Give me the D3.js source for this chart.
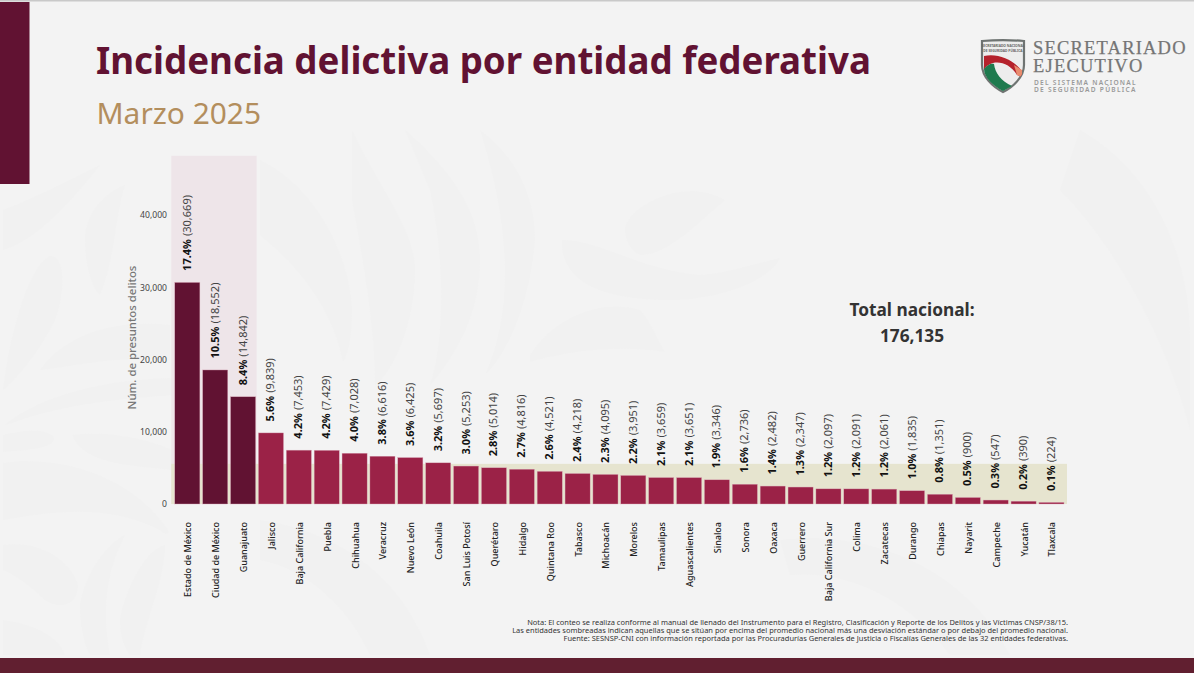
<!DOCTYPE html>
<html lang="es">
<head>
<meta charset="utf-8">
<title>Incidencia delictiva por entidad federativa</title>
<script src="https://cdn.jsdelivr.net/npm/d3@7"></script>
<style>
html,body{margin:0;padding:0;background:#f3f3f3;}
svg{display:block;font-family:"Noto Sans",sans-serif;}
</style>
</head>
<body>
<svg id="chart" width="1194" height="673"></svg>
<script>
// values
var states = ["Estado de México","Ciudad de México","Guanajuato","Jalisco","Baja California","Puebla","Chihuahua","Veracruz","Nuevo León","Coahuila","San Luis Potosí","Querétaro","Hidalgo","Quintana Roo","Tabasco","Michoacán","Morelos","Tamaulipas","Aguascalientes","Sinaloa","Sonora","Oaxaca","Guerrero","Baja California Sur","Colima","Zacatecas","Durango","Chiapas","Nayarit","Campeche","Yucatán","Tlaxcala"];
var counts = [30669,18552,14842,9839,7453,7429,7028,6616,6425,5697,5253,5014,4816,4521,4218,4095,3951,3659,3651,3346,2736,2482,2347,2097,2091,2061,1835,1351,900,547,390,224];
var shares = ["17.4%","10.5%","8.4%","5.6%","4.2%","4.2%","4.0%","3.8%","3.6%","3.2%","3.0%","2.8%","2.7%","2.6%","2.4%","2.3%","2.2%","2.1%","2.1%","1.9%","1.6%","1.4%","1.3%","1.2%","1.2%","1.2%","1.0%","0.8%","0.5%","0.3%","0.2%","0.1%"];
var yTicks = [0,10000,20000,30000,40000];
var highStates = ["Estado de México","Ciudad de México","Guanajuato"];
var lowBandTop = 5560; // upper edge of the beige band
var yTop = 48200;      // upper edge of the pink band
var notes = [
  "Nota: El conteo se realiza conforme al manual de llenado del Instrumento para el Registro, Clasificación y Reporte de los Delitos y las Víctimas CNSP/38/15.",
  "Las entidades sombreadas indican aquellas que se sitúan por encima del promedio nacional más una desviación estándar o por debajo del promedio nacional.",
  "Fuente: SESNSP-CNI con información reportada por las Procuradurías Generales de Justicia o Fiscalías Generales de las 32 entidades federativas."
];

var svg = d3.select("#chart");

// page background and the faint leaf ornament
svg.append("rect").attr("width",1194).attr("height",673).attr("fill","#f3f3f3");
var ornament = [
  "M3,390 C10,330 30,265 50,256 C65,255 66,290 55,320 C40,350 20,375 3,390 Z",
  "M5,425 C40,395 110,378 178,378 L178,395 C120,398 60,405 12,423 Z",
  "M3,435 C30,428 50,430 54,438 C54,448 30,450 3,452 Z",
  "M3,463 C60,455 130,475 168,530 C170,535 165,535 160,530 C110,505 60,510 3,520 Z",
  "M3,545 C40,540 70,560 78,585 C78,605 60,610 45,600 C30,585 15,575 3,570 Z",
  "M80,605 C85,575 105,545 125,535 C110,565 100,600 110,655 L90,655 C82,640 80,620 80,605 Z",
  "M120,620 C125,590 145,550 165,545 C165,580 145,620 140,655 L130,655 C122,645 120,630 120,620 Z",
  "M3,620 C40,625 60,640 65,655 L3,655 Z",
  "M85,240 C85,210 110,190 125,185 C115,215 115,260 100,295 C90,285 85,260 85,240 Z",
  "M40,370 C70,330 120,320 170,325 L170,360 C120,355 80,365 40,370 Z",
  "M72,435 C110,430 150,440 172,450 L172,470 C130,465 85,465 72,435 Z",
  "M3,210 C30,200 70,180 100,165 C80,190 40,240 3,250 Z",
  "M260,160 C320,190 350,260 352,310 C352,345 345,360 343,362 C335,320 310,275 260,235 Z",
  "M352,130 C380,190 415,230 415,270 C415,320 395,370 375,385 C375,330 365,270 352,200 Z",
  "M405,130 C450,170 480,210 480,260 C480,310 460,350 430,385 C445,340 445,260 430,190 Z",
  "M480,130 C520,160 535,200 535,240 C530,300 510,350 485,375 C510,320 515,240 480,130 Z",
  "M562,240 C600,240 640,270 700,275 C720,275 770,260 780,258 C770,280 720,300 670,300 C620,300 560,290 562,240 Z",
  "M530,355 C560,310 610,300 640,310 C650,320 660,345 665,352 C620,345 570,350 530,362 Z",
  "M625,230 C625,210 680,175 725,200 C700,220 670,255 640,255 C630,250 625,240 625,230 Z",
  "M260,520 C330,530 400,570 430,655 L370,655 C350,610 310,570 260,560 Z",
  "M780,540 C860,530 960,560 1010,655 L950,655 C910,600 850,570 790,575 Z",
  "M1080,130 C1150,170 1190,250 1190,340 L1190,430 C1170,350 1120,250 1060,190 Z"
];
svg.append("g").selectAll("path").data(ornament).join("path")
  .attr("d",function(d){return d;})
  .attr("fill","#f1f1f1");

svg.append("rect").attr("width",1194).attr("height",1.5).attr("fill","#c9c9c9");
svg.append("rect").attr("x",0).attr("y",2).attr("width",29.5).attr("height",182).attr("fill","#611232");
svg.append("rect").attr("x",0).attr("y",658).attr("width",1194).attr("height",15).attr("fill","#611f30");

// title
svg.append("text").attr("x",96).attr("y",73.5)
  .attr("font-size",36.7).attr("font-weight",700).attr("fill","#611232")
  .text("Incidencia delictiva por entidad federativa");
svg.append("text").attr("x",96.5).attr("y",124)
  .attr("font-size",29.9).attr("fill","#b38e5d")
  .text("Marzo 2025");

// logo
var logo = svg.append("g").attr("transform","translate(981,39)");
var shield = "M1,2 C12,1 32,1 43,2 L43,26 C43,38 32,48 22,53 C12,48 1,38 1,26 Z";
logo.append("clipPath").attr("id","shieldClip").append("path").attr("d",shield);
logo.append("path").attr("d",shield).attr("fill","#ededed").attr("stroke","#6f7472").attr("stroke-width",2.2);
var inner = logo.append("g").attr("clip-path","url(#shieldClip)");
inner.append("path").attr("d","M3,17 C16,14 32,20 41,32 L41,38 L36,36 C30,26 20,22 12,24 C8,25 5,27 3,31 Z").attr("fill","#b5222c");
inner.append("path").attr("d","M3,30 C6,26 10,24 13,25 C14,34 20,42 31,47 L22,52 C12,47 3,38 3,30 Z").attr("fill","#1e7a4e");
inner.append("path").attr("d","M33,26 L41,31 L41,38 L36,36 Z").attr("fill","#e98c6e");
logo.append("text").attr("x",22).attr("y",8).attr("text-anchor","middle")
  .attr("font-size",3.3).attr("font-weight",700).attr("fill","#666").text("SECRETARIADO NACIONAL");
logo.append("text").attr("x",22).attr("y",12.5).attr("text-anchor","middle")
  .attr("font-size",3.3).attr("font-weight",700).attr("fill","#666").text("DE SEGURIDAD PÚBLICA");

var logoText = svg.append("g").attr("fill","#757575");
logoText.append("text").attr("x",1033).attr("y",53.5)
  .attr("font-family","'Liberation Serif',serif").attr("font-size",18.5).attr("letter-spacing",1.2)
  .attr("stroke","#757575").attr("stroke-width",0.25)
  .text("SECRETARIADO");
logoText.append("text").attr("x",1033).attr("y",72)
  .attr("font-family","'Liberation Serif',serif").attr("font-size",18.5).attr("letter-spacing",1.2)
  .attr("stroke","#757575").attr("stroke-width",0.25)
  .text("EJECUTIVO");
logoText.append("text").attr("x",1034).attr("y",84.5)
  .attr("font-size",6.6).attr("font-weight",600).attr("letter-spacing",1.25).attr("fill","#999").text("DEL SISTEMA NACIONAL");
logoText.append("text").attr("x",1034).attr("y",92)
  .attr("font-size",6.6).attr("font-weight",600).attr("letter-spacing",1.25).attr("fill","#999").text("DE SEGURIDAD PÚBLICA");

// scales
var x = d3.scaleBand().domain(states).range([173.4,1065.4]).paddingInner(0.1).paddingOuter(0.05);
var y = d3.scaleLinear().domain([0,40000]).range([504,215]);

// shaded bands for the states outside mean +/- 1 sd
var bandLeft = x(states[0])-3.5;
svg.append("rect")
  .attr("x",bandLeft).attr("y",y(yTop))
  .attr("width",x(highStates[2])+x.bandwidth()+1-bandLeft)
  .attr("height",y(0)-y(yTop))
  .attr("fill","#eee5e9");
svg.append("rect")
  .attr("x",bandLeft).attr("y",y(lowBandTop))
  .attr("width",x(states[31])+x.bandwidth()+3-bandLeft)
  .attr("height",y(0)-y(lowBandTop))
  .attr("fill","#e6e4cf");

// bars
svg.append("g").selectAll("rect").data(states).join("rect")
  .attr("x",function(d){return x(d);})
  .attr("y",function(d,i){return y(counts[i]);})
  .attr("width",x.bandwidth())
  .attr("height",function(d,i){return y(0)-y(counts[i]);})
  .attr("fill",function(d){return highStates.indexOf(d)>=0 ? "#611232" : "#9b2247";})
  .attr("stroke","#d9a9b8").attr("stroke-width",0.4);

// value labels
var labels = svg.append("g").selectAll("text").data(states).join("text")
  .attr("transform",function(d,i){
    return "translate("+(x(d)+x.bandwidth()/2+3.5)+","+(y(counts[i])-11.5)+") rotate(-90)";
  })
  .attr("font-size",11).attr("fill","#222");
labels.append("tspan").attr("font-weight",700).attr("fill","#111")
  .text(function(d,i){return shares[i];});
labels.append("tspan").attr("fill","#444").attr("dx",3)
  .text(function(d,i){return "("+d3.format(",")(counts[i])+")";});

// axes
var yAxis = svg.append("g").attr("transform","translate(173,0)")
  .call(d3.axisLeft(y).tickValues(yTicks).tickFormat(d3.format(",")).tickSize(0).tickPadding(6));
yAxis.select(".domain").remove();
yAxis.selectAll("text").attr("font-family","'Noto Sans',sans-serif").attr("font-size",8.6).attr("fill","#444");

var xAxis = svg.append("g").attr("transform","translate(0,504)")
  .call(d3.axisBottom(x).tickSize(0).tickPadding(0));
xAxis.select(".domain").remove();
xAxis.selectAll("text")
  .attr("font-family","'Noto Sans',sans-serif").attr("font-size",9).attr("font-weight",500).attr("fill","#222")
  .attr("text-anchor","end").attr("dy",0)
  .attr("transform","translate(4,18) rotate(-90)")
  .attr("x",0).attr("y",0);

svg.append("text")
  .attr("transform","translate(136,337.5) rotate(-90)")
  .attr("text-anchor","middle").attr("font-size",11.4).attr("font-weight",500).attr("fill","#777")
  .text("Núm. de presuntos delitos");

// total
svg.append("text").attr("x",912).attr("y",316).attr("text-anchor","middle")
  .attr("font-size",17.3).attr("font-weight",700).attr("fill","#333").text("Total nacional:");
svg.append("text").attr("x",912).attr("y",342).attr("text-anchor","middle")
  .attr("font-size",17.3).attr("font-weight",700).attr("fill","#333").text("176,135");

// footnote
svg.append("g").selectAll("text").data(notes).join("text")
  .attr("x",1068).attr("y",function(d,i){return 625+i*8;})
  .attr("text-anchor","end").attr("font-size",7.47).attr("fill","#333")
  .text(function(d){return d;});
</script>
</body>
</html>
